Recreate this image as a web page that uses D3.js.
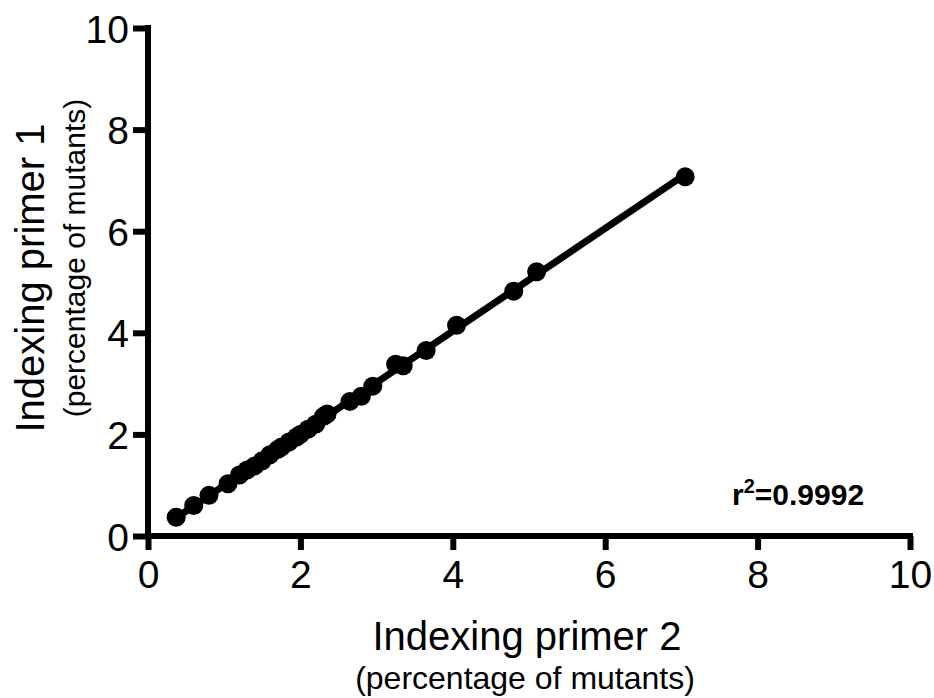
<!DOCTYPE html>
<html>
<head>
<meta charset="utf-8">
<script src="https://cdn.jsdelivr.net/npm/d3@7"></script>
<style>
  body { margin: 0; background: #fff; }
  text { font-family: "Liberation Sans", Arial, sans-serif; fill: #000; }
</style>
</head>
<body>
<svg></svg>
<script>
var width = 934, height = 698;

// data (primer 2 on x, primer 1 on y)
var primer2 = [0.37, 0.6, 0.8, 1.05, 1.2, 1.3, 1.4, 1.5, 1.6, 1.7, 1.75, 1.85, 1.95, 2.0, 2.1, 2.2, 2.3, 2.35, 2.65, 2.8, 2.95, 3.25, 3.35, 3.65, 4.05, 4.8, 5.1, 7.05];
var primer1 = [0.37, 0.6, 0.8, 1.03, 1.2, 1.3, 1.38, 1.48, 1.6, 1.7, 1.75, 1.85, 1.95, 2.0, 2.1, 2.2, 2.35, 2.4, 2.65, 2.75, 2.95, 3.38, 3.35, 3.65, 4.15, 4.82, 5.2, 7.07];
var tickValues = [0, 2, 4, 6, 8, 10];
var rSquared = "0.9992";

var points = primer2.map(function(d, i) { return {x: d, y: primer1[i]}; });

var x = d3.scaleLinear().domain([0, 10]).range([148, 910]);
var y = d3.scaleLinear().domain([0, 10]).range([536, 28]);

var svg = d3.select("svg")
    .attr("width", width)
    .attr("height", height);

// linear fit through the points
var mx = d3.mean(points, function(d) { return d.x; });
var my = d3.mean(points, function(d) { return d.y; });
var slope = d3.sum(points, function(d) { return (d.x - mx) * (d.y - my); }) /
            d3.sum(points, function(d) { return (d.x - mx) * (d.x - mx); });
var icpt = my - slope * mx;
var xMin = d3.min(primer2), xMax = d3.max(primer2);

svg.append("line")
    .attr("x1", x(xMin)).attr("y1", y(icpt + slope * xMin))
    .attr("x2", x(xMax)).attr("y2", y(icpt + slope * xMax))
    .attr("stroke", "#000")
    .attr("stroke-width", 7);

svg.append("g").selectAll("circle")
    .data(points)
    .enter().append("circle")
    .attr("cx", function(d) { return x(d.x); })
    .attr("cy", function(d) { return y(d.y); })
    .attr("r", 9.5)
    .attr("fill", "#000");

// axes
var xAxis = svg.append("g")
    .attr("transform", "translate(0,536)")
    .call(d3.axisBottom(x).tickValues(tickValues).tickSize(14).tickPadding(10).tickSizeOuter(0));
var yAxis = svg.append("g")
    .attr("transform", "translate(148,0)")
    .call(d3.axisLeft(y).tickValues(tickValues).tickSize(15).tickPadding(4).tickSizeOuter(0));

[xAxis, yAxis].forEach(function(a) {
  a.select(".domain").attr("stroke", "#000").attr("stroke-width", 6);
  a.selectAll(".tick line").attr("stroke", "#000").attr("stroke-width", 6);
  a.selectAll(".tick text")
      .attr("font-family", "Liberation Sans, Arial, sans-serif")
      .attr("font-size", 39)
      .attr("fill", "#000");
});
// extend domains to cover the corner
xAxis.select(".domain").attr("d", "M" + (148 - 3) + ",0H" + (x(10) + 3));
yAxis.select(".domain").attr("d", "M0," + (536 + 3) + "V" + (y(10) - 3));
yAxis.selectAll(".tick text").attr("dy", "0.36em");

// axis titles
svg.append("text")
    .attr("x", 527).attr("y", 650)
    .attr("text-anchor", "middle")
    .attr("font-size", 40)
    .text("Indexing primer 2");
svg.append("text")
    .attr("x", 525).attr("y", 689)
    .attr("text-anchor", "middle")
    .attr("font-size", 32)
    .text("(percentage of mutants)");

svg.append("text")
    .attr("transform", "translate(44,278) rotate(-90)")
    .attr("text-anchor", "middle")
    .attr("font-size", 40)
    .text("Indexing primer 1");
svg.append("text")
    .attr("transform", "translate(85,258) rotate(-90)")
    .attr("text-anchor", "middle")
    .attr("font-size", 30)
    .text("(percentage of mutants)");

// r squared label
var r2 = svg.append("text")
    .attr("x", 732).attr("y", 505)
    .attr("font-size", 30)
    .attr("font-weight", "bold");
r2.append("tspan").text("r");
r2.append("tspan").attr("dy", -12).attr("font-size", 20).text("2");
r2.append("tspan").attr("dy", 12).text("=" + rSquared);
</script>
</body>
</html>
